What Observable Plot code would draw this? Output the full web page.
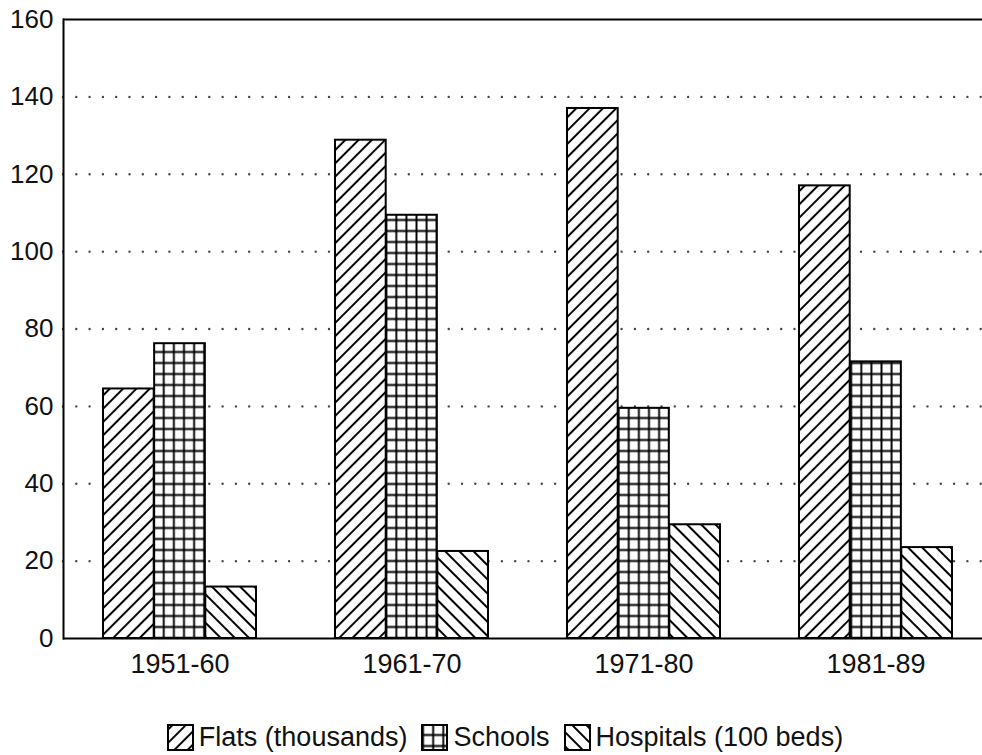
<!DOCTYPE html>
<html>
<head>
<meta charset="utf-8">
<script src="https://cdn.jsdelivr.net/npm/d3@7"></script>
<script src="https://cdn.jsdelivr.net/npm/@observablehq/plot@0.6"></script>
<style>
  html, body { margin: 0; padding: 0; background: white; overflow: hidden; }
  #chart svg { display: block; }
  #legend {
    display: flex; justify-content: center; align-items: center;
    margin-top: 21px; margin-left: 28px;
    font-family: "Liberation Sans", Arial, sans-serif; font-size: 27px; line-height: 32px; color: #111;
  }
  #legend .item { display: flex; align-items: center; margin: 0 7px; }
  #legend svg { margin-right: 5px; }
</style>
</head>
<body>
<div id="chart"></div>
<div id="legend"></div>
<script>
// ---- data ----
const periods = ["1951-60", "1961-70", "1971-80", "1981-89"];
const flats = [64.5, 128.8, 137, 117];
const schools = [76.2, 109.4, 59.5, 71.5];
const hospitals = [13.3, 22.5, 29.4, 23.5];
const seriesNames = ["Flats (thousands)", "Schools", "Hospitals (100 beds)"];
const yTicks = [0, 20, 40, 60, 80, 100, 120, 140, 160];
const gridTicks = [20, 40, 60, 80, 100, 120, 140];

const toRows = (vals) => periods.map((p, i) => ({period: p, value: vals[i]}));
const flatsData = toRows(flats);
const schoolsData = toRows(schools);
const hospitalsData = toRows(hospitals);

// ---- layout ----
const xRange = [63, 993];
const paddingInner = 0.34, paddingOuter = 0.17;
const step = (xRange[1] - xRange[0]) / (periods.length - paddingInner + 2 * paddingOuter);
const bw = step * (1 - paddingInner);
const third = bw / 3;

const barStyle = {x: "period", y: "value", stroke: "black", strokeWidth: 2};

const chart = Plot.plot({
  width: 982,
  height: 700,
  marginTop: 19,
  marginBottom: 62,
  marginLeft: 63,
  marginRight: 0,
  style: {fontFamily: "'Liberation Sans', Arial, sans-serif", background: "white", color: "#111"},
  x: {domain: periods, range: xRange, paddingInner, paddingOuter, label: null},
  y: {domain: [0, 160], label: null},
  marks: [
    Plot.ruleY(gridTicks, {stroke: "#444", strokeWidth: 2.4, strokeDasharray: "0 13.3", strokeLinecap: "round"}),
    Plot.barY(flatsData, {...barStyle, fill: "url(#p-flats)", insetLeft: 0, insetRight: 2 * third}),
    Plot.barY(schoolsData, {...barStyle, fill: "url(#p-schools)", insetLeft: third, insetRight: third}),
    Plot.barY(hospitalsData, {...barStyle, fill: "url(#p-hosp)", insetLeft: 2 * third, insetRight: 0}),
    Plot.ruleY([0, 160], {stroke: "black", strokeWidth: 2}),
    Plot.frame({anchor: "left", stroke: "black", strokeWidth: 2}),
    Plot.axisY({ticks: yTicks, tickSize: 0, tickPadding: 10, fontSize: 26, label: null}),
    Plot.axisX({tickSize: 0, tickPadding: 15, fontSize: 27, label: null})
  ]
});

// pattern definitions
const schoolLeft = xRange[0] + paddingOuter * step + third;
const cellW = step / 23;
const cellH = 11;
const svgNS = "http://www.w3.org/2000/svg";
const defs = d3.select(chart).insert("defs", ":first-child");

function hatch(id, angle, d) {
  const p = defs.append("pattern").attr("id", id).attr("patternUnits", "userSpaceOnUse")
    .attr("width", d).attr("height", d).attr("patternTransform", `rotate(${angle})`);
  p.append("rect").attr("width", d).attr("height", d).attr("fill", "white");
  p.append("line").attr("x1", d / 2).attr("x2", d / 2).attr("y1", -1).attr("y2", d + 1)
    .attr("stroke", "black").attr("stroke-width", 2);
}
hatch("p-flats", 45, 9.4);
hatch("p-hosp", -45, 10);
{
  const p = defs.append("pattern").attr("id", "p-schools").attr("patternUnits", "userSpaceOnUse")
    .attr("x", schoolLeft - cellW / 2).attr("y", 638 - cellH / 2)
    .attr("width", cellW).attr("height", cellH);
  p.append("rect").attr("width", cellW).attr("height", cellH).attr("fill", "white");
  p.append("path").attr("d", `M${cellW / 2},0V${cellH}M0,${cellH / 2}H${cellW}`)
    .attr("stroke", "black").attr("stroke-width", 1.9);
}
document.getElementById("chart").appendChild(chart);

// legend
const legendFills = ["url(#p-flats)", "url(#p-schools)", "url(#p-hosp)"];
const legend = d3.select("#legend");
seriesNames.forEach((name, i) => {
  const item = legend.append("div").attr("class", "item");
  const s = item.append("svg").attr("width", 27).attr("height", 27);
  s.append("rect").attr("x", 1).attr("y", 1).attr("width", 25).attr("height", 25)
    .attr("fill", legendFills[i]).attr("stroke", "black").attr("stroke-width", 2);
  item.append("span").text(name);
});
</script>
</body>
</html>
